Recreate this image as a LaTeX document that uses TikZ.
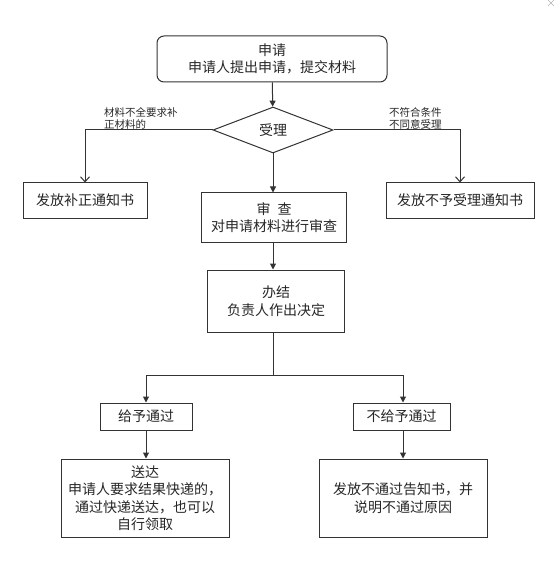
\documentclass[tikz,border=0pt]{standalone}
\usepackage{fontspec}
\setmainfont{Noto Sans CJK SC}
\usetikzlibrary{shapes.geometric,arrows.meta}
\colorlet{linegray}{black!80}
\colorlet{textgray}{black!85}
\tikzset{
  box/.style={draw=linegray,line width=1pt,text=textgray,align=center,inner sep=0pt,
    font=\fontsize{14}{17.5}\selectfont},
  roundbox/.style={box,rounded corners=7pt},
  decision/.style={box,diamond,aspect=2.6},
  note/.style={text=textgray,align=left,inner sep=0pt,font=\fontsize{10.5}{12}\selectfont},
  tri/.style={draw=linegray,line width=1pt,-{Triangle[length=6pt,width=6pt]}},
  opn/.style={draw=linegray,line width=1pt,-{Straight Barb[length=5pt,width=9pt]}},
}
\begin{document}
\begin{tikzpicture}[x=1pt,y=-1pt]
\useasboundingbox (0,0) rectangle (554,561);
\draw[black!30,line width=0.6pt] (548,0) -- (554,6) (548,6) -- (554,0);

\node[roundbox,minimum width=230pt,minimum height=46pt] (apply) at (272,59) {申请\\申请人提出申请，提交材料};
\node[decision,minimum width=120pt,minimum height=46pt] (accept) at (273,130) {受理};
\node[box,minimum width=124pt,minimum height=35pt] (fix) at (85,200.5) {发放补正通知书};
\node[box,minimum width=148pt,minimum height=35pt] (reject) at (460,200.5) {发放不予受理通知书};
\node[box,minimum width=145pt,minimum height=49pt] (review) at (274,217.5) {审\hspace{0.5em}查\\对申请材料进行审查};
\node[box,minimum width=137pt,minimum height=62pt] (finish) at (276,301) {办结\\负责人作出决定};
\node[box,minimum width=92pt,minimum height=27pt] (pass) at (146,416.5) {给予通过};
\node[box,minimum width=97pt,minimum height=27pt] (fail) at (401.5,416.5) {不给予通过};
\node[box,minimum width=168pt,minimum height=78pt] (deliver) at (145,498) {送达\\申请人要求结果快递的，\\通过快递送达，也可以\\自行领取};
\node[box,minimum width=168pt,minimum height=78pt] (notice) at (403,498) {发放不通过告知书，并\\说明不通过原因};

\node[note,anchor=south west] (lack) at (104,130) {材料不全要求补\\正材料的};
\node[note,anchor=south west] (refuse) at (389,130) {不符合条件\\不同意受理};

\draw[tri] (apply) -- (accept);
\draw[opn] (accept.west) -| (fix.north);
\draw[opn] (accept.east) -| (reject.north);
\draw[tri] (accept.south) -- (accept.south |- review.north);
\draw[tri] (review.south -| accept.south) -- (finish.north -| accept.south);
\coordinate (split) at (273,375);
\draw[linegray,line width=1pt] (finish.south -| split) -- (split);
\draw[tri] (split) -| (pass.north);
\draw[tri] (split) -| (notice.north |- fail.north);
\draw[tri] (pass) -- (pass.south |- deliver.north);
\draw[tri] (fail.south -| notice.north) -- (notice.north);
\end{tikzpicture}
\end{document}
